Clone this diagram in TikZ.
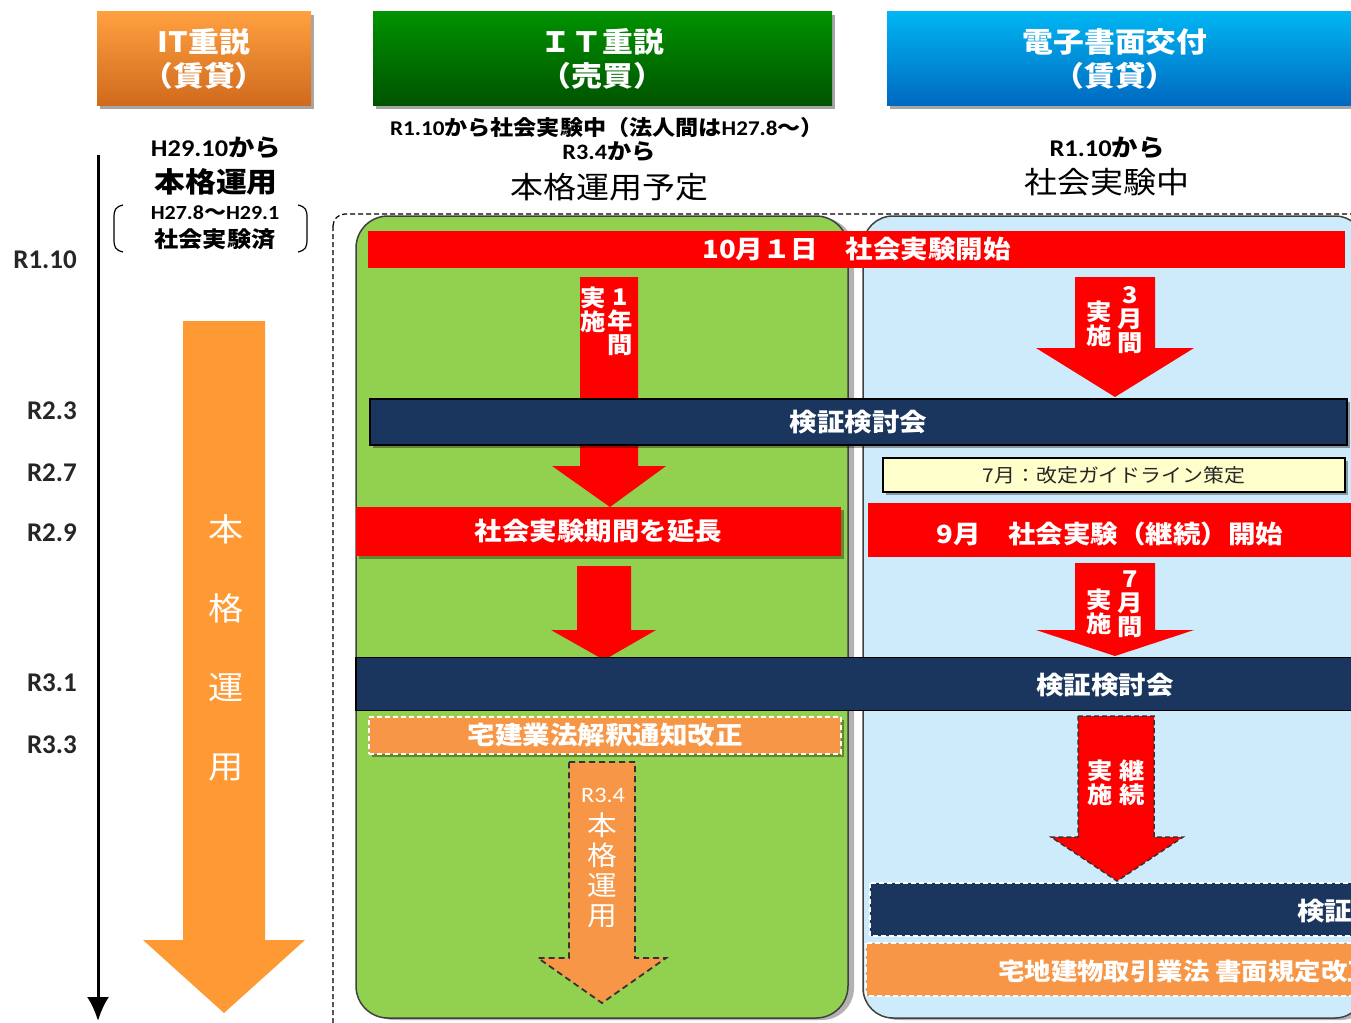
\documentclass[tikz,border=0pt]{standalone}
\usepackage{fontspec}
\setmainfont{Noto Sans CJK JP}[FakeStretch=1.1]
\newfontfamily\lat{Carlito}[FakeStretch=1.1]
\newfontfamily\latn{Carlito}
\usetikzlibrary{shadows,arrows.meta}
\definecolor{hoT}{HTML}{FFA040}
\definecolor{hoB}{HTML}{CF6A1C}
\definecolor{hgT}{HTML}{009200}
\definecolor{hgB}{HTML}{005300}
\definecolor{hbT}{HTML}{00B6F2}
\definecolor{hbB}{HTML}{0068C0}
\definecolor{pgreen}{HTML}{92D050}
\definecolor{pblue}{HTML}{CDEBFB}
\definecolor{rred}{HTML}{FF0000}
\definecolor{navy}{HTML}{1B365E}
\definecolor{oarrow}{HTML}{FF9933}
\definecolor{obox}{HTML}{F79646}
\definecolor{ybox}{HTML}{FFFFCC}
\newcommand\fs[2]{\fontsize{#1}{#2}\selectfont}
\newcommand\blockarrow[9]{\path[#1] (#2,#4) -- (#3,#4) -- (#3,#5) -- (#7,#5) -- (#8,#9) -- (#6,#5) -- (#2,#5) -- cycle;}
\begin{document}
\begin{tikzpicture}[x=1pt,y=-1pt,
  shd/.style={drop shadow={shadow xshift=3pt,shadow yshift=-3pt,opacity=0.35,fill=black}},
  pshd/.style={drop shadow={shadow xshift=6pt,shadow yshift=-2pt,opacity=0.3,fill=black}},
  hdr/.style={shd,text=white,font=\bfseries\fs{28}{34},align=center,inner sep=0,minimum height=94},
  tl/.style={font=\latn\bfseries\fs{27}{30},text=black!85,anchor=east,inner sep=0},
  sub/.style={font=\bfseries,text=black,inner sep=0,align=center},
  bar/.style={inner sep=0,text=white,font=\bfseries\fs{25}{30}},
  vt/.style={text=white,font=\bfseries\fs{23}{24},align=center,inner sep=0},
  redar/.style={fill=rred},
  dashbox/.style={draw=white,dash pattern=on 5pt off 3pt,line width=1.3}
]
\useasboundingbox (0,0) rectangle (1351,1022);
\clip (0,0) rectangle (1351,1022);

% headers
\node[hdr,top color=hoT,bottom color=hoB,minimum width=214] (h1) at (204,59) {IT重説\\（賃貸）};
\node[hdr,top color=hgT,bottom color=hgB,minimum width=459] (h2) at (602.5,59) {ＩＴ重説\\（売買）};
\node[hdr,top color=hbT,bottom color=hbB,minimum width=470] (h3) at (1122,59) {};
\node[text=white,font=\bfseries\fs{28}{34},align=center,inner sep=0] (h3t) at (1115,59) {電子書面交付\\（賃貸）};

% timeline
\coordinate (tl0) at (98,155);
\coordinate (tl1) at (98,1021);
\draw[line width=3,-{Latex[length=24,width=22]}] (tl0) -- (tl1);
\node[tl] (t1) at (77,260) {R1.10};
\node[tl] (t2) at (77,411) {R2.3};
\node[tl] (t3) at (77,473) {R2.7};
\node[tl] (t4) at (77,533) {R2.9};
\node[tl] (t5) at (77,683) {R3.1};
\node[tl] (t6) at (77,745) {R3.3};

% left column texts
\node[sub,font=\bfseries\fs{24}{28}] (l1) at (216,148) {{\lat H29.10}から};
\node[sub,font=\bfseries\fs{28}{30}] (l2) at (216,182) {本格運用};
\node[sub,font=\bfseries\fs{20}{24}] (l3) at (215,213) {{\lat H27.8}～{\lat H29.1}};
\node[sub,font=\bfseries\fs{22}{24}] (l4) at (215,239) {社会実験済};
\draw[line width=1.2] (123,205) .. controls (115,207) and (114,210) .. (114,218) -- (114,239) .. controls (114,247) and (115,250) .. (123,252);
\draw[line width=1.2] (298,205) .. controls (306,207) and (307,210) .. (307,218) -- (307,239) .. controls (307,247) and (306,250) .. (298,252);

% left big orange arrow
\blockarrow{fill=oarrow}{183}{265}{321}{940}{143}{305}{224}{1013}
\node[text=white,font=\fs{32}{79},align=center,inner sep=0] (la) at (226,648) {本\\格\\運\\用};

% middle / right subtitles
\node[sub,font=\bfseries\fs{21}{24}] (m1) at (607,128) {{\lat R1.10}から社会実験中（法人間は{\lat H27.8}～）};
\node[sub,font=\bfseries\fs{22}{24}] (m2) at (609,152) {{\lat R3.4}から};
\node[sub,font=\fs{30}{32}] (m3) at (609,187) {本格運用予定};
\node[sub,font=\bfseries\fs{24}{28}] (r1) at (1107,148) {{\lat R1.10}から};
\node[sub,font=\fs{30}{32}] (r2) at (1107,182) {社会実験中};

% outer dashed frame and panels
\draw[dash pattern=on 5pt off 3pt,line width=1.2,rounded corners=12] (333,214) rectangle (1420,1060);
\path[fill=pgreen,draw=black!75,line width=1.5,rounded corners=32,pshd] (356,216) rectangle (848,1018);
\path[fill=pblue,draw=black!75,line width=1.5,rounded corners=30,pshd] (863,216) rectangle (1365,1018);

% arrows
\blockarrow{redar}{580}{638}{277}{466}{552}{666}{610}{507}
\blockarrow{redar}{1075}{1155}{277}{348}{1036}{1194}{1115}{397}
\blockarrow{redar}{577}{631}{566}{630}{551}{656}{604}{660}
\blockarrow{redar}{1075}{1155}{563}{630}{1036}{1194}{1115}{656}
\blockarrow{fill=obox,draw=black!80,line width=1.8,dash pattern=on 6pt off 4pt}{569}{635}{762}{958}{538}{666}{602}{1003}
\blockarrow{fill=rred,draw=black!80,line width=1.5,dash pattern=on 5pt off 3pt}{1078}{1154}{716}{837}{1051}{1183}{1117}{881}

% bars
\node[bar,fill=rred,minimum width=977,minimum height=37] (b1) at (856.5,249.5) {10月１日　社会実験開始};
\node[bar,fill=navy,draw=black,line width=1.5,shd,minimum width=977,minimum height=46] (b2) at (858.5,422) {検証検討会};
\node[inner sep=0,fill=ybox,draw=black,line width=1.5,shd,minimum width=462,minimum height=34,font=\fs{19}{24},text=black!85] (b3) at (1114,475) {7月：改定ガイドライン策定};
\node[bar,fill=rred,shd,minimum width=485,minimum height=49] (b4) at (598.5,531.5) {社会実験期間を延長};
\node[bar,fill=rred,minimum width=492,minimum height=54] (b5) at (1114,530) {};
\node[bar] (b5t) at (1110,534) {9月　社会実験（継続）開始};
\node[bar,fill=navy,draw=black,line width=1.5,minimum width=1004,minimum height=53] (b6) at (858,684) {};
\node[bar] (b6t) at (1105,685) {検証検討会};
\node[bar,fill=obox,dashbox,shd,minimum width=472,minimum height=37] (b7) at (605,735.5) {宅建業法解釈通知改正};
\path[fill=navy,dashbox] (870,883) rectangle (1420,936);
\node[bar,anchor=west] (b8) at (1297,911) {検証検討会};
\path[fill=obox,dashbox] (866,943) rectangle (1420,996);
\node[bar,anchor=west,font=\bfseries\fs{24}{28}] (b9) at (998,971) {宅地建物取引業法 書面規定改正};

% vertical texts in arrows
\node[vt] (a1l) at (593,310) {実\\施};
\node[vt] (a1r) at (620,322) {1\\年\\間};
\node[vt] (a2l) at (1099,324) {実\\施};
\node[vt] (a2r) at (1130,320) {3\\月\\間};
\node[vt] (a4l) at (1099,612) {実\\施};
\node[vt] (a4r) at (1130,604) {7\\月\\間};
\node[vt] (a6l) at (1100,783) {実\\施};
\node[vt] (a6r) at (1132,783) {継\\続};
\node[text=white,font=\lat\fs{22}{24},inner sep=0] (a5t) at (603,795) {R3.4};
\node[text=white,font=\fs{27}{30},align=center,inner sep=0] (a5v) at (602,870) {本\\格\\運\\用};
\end{tikzpicture}
\end{document}
